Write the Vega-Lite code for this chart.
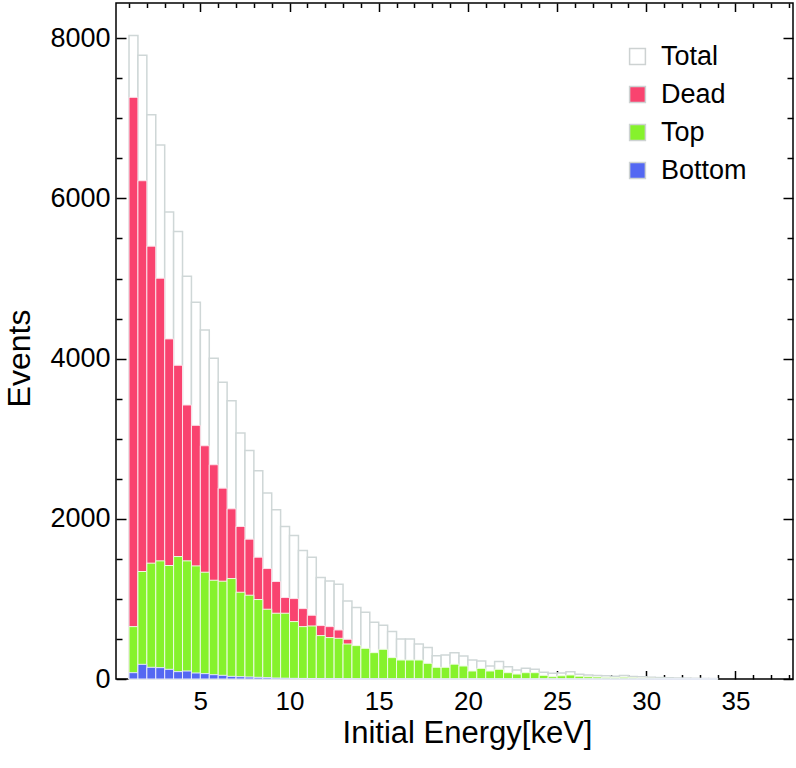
{
  "$schema": "https://vega.github.io/schema/vega-lite/v6.json",
  "width": 677,
  "height": 676,
  "autosize": "none",
  "padding": {"left": 116, "top": 3, "right": 3, "bottom": 89},
  "background": "white",
  "config": {
    "view": {"stroke": "black", "strokeWidth": 1.5},
    "font": "Liberation Sans",
    "axis": {"labelColor": "black", "titleColor": "black", "tickColor": "black", "tickWidth": 1.5, "domain": false, "grid": false, "labelFlush": false, "labelOverlap": false, "titleFontWeight": "normal", "zindex": 1}
  },
  "data": {"values": [
    {"lo":1,"hi":1.5,"total":8034,"dead":7262,"top":654,"bottom":79},
    {"lo":1.5,"hi":2,"total":7787,"dead":6221,"top":1342,"bottom":183},
    {"lo":2,"hi":2.5,"total":7046,"dead":5404,"top":1446,"bottom":146},
    {"lo":2.5,"hi":3,"total":6667,"dead":5004,"top":1475,"bottom":142},
    {"lo":3,"hi":3.5,"total":5830,"dead":4246,"top":1417,"bottom":121},
    {"lo":3.5,"hi":4,"total":5588,"dead":3917,"top":1529,"bottom":92},
    {"lo":4,"hi":4.5,"total":5029,"dead":3421,"top":1475,"bottom":100},
    {"lo":4.5,"hi":5,"total":4704,"dead":3167,"top":1412,"bottom":75},
    {"lo":5,"hi":5.5,"total":4358,"dead":2912,"top":1333,"bottom":67},
    {"lo":5.5,"hi":6,"total":4004,"dead":2675,"top":1233,"bottom":54},
    {"lo":6,"hi":6.5,"total":3704,"dead":2383,"top":1221,"bottom":46},
    {"lo":6.5,"hi":7,"total":3475,"dead":2125,"top":1254,"bottom":33},
    {"lo":7,"hi":7.5,"total":3071,"dead":1904,"top":1083,"bottom":29},
    {"lo":7.5,"hi":8,"total":2854,"dead":1746,"top":1046,"bottom":25},
    {"lo":8,"hi":8.5,"total":2600,"dead":1521,"top":992,"bottom":21},
    {"lo":8.5,"hi":9,"total":2321,"dead":1379,"top":871,"bottom":17},
    {"lo":9,"hi":9.5,"total":2112,"dead":1217,"top":821,"bottom":12},
    {"lo":9.5,"hi":10,"total":1904,"dead":1017,"top":821,"bottom":10},
    {"lo":10,"hi":10.5,"total":1792,"dead":1004,"top":717,"bottom":8},
    {"lo":10.5,"hi":11,"total":1604,"dead":879,"top":654,"bottom":7},
    {"lo":11,"hi":11.5,"total":1521,"dead":796,"top":662,"bottom":6},
    {"lo":11.5,"hi":12,"total":1267,"dead":667,"top":542,"bottom":5},
    {"lo":12,"hi":12.5,"total":1225,"dead":654,"top":517,"bottom":4},
    {"lo":12.5,"hi":13,"total":1183,"dead":612,"top":508,"bottom":4},
    {"lo":13,"hi":13.5,"total":975,"dead":496,"top":437,"bottom":3},
    {"lo":13.5,"hi":14,"total":892,"dead":400,"top":417,"bottom":3},
    {"lo":14,"hi":14.5,"total":833,"dead":360,"top":383,"bottom":2},
    {"lo":14.5,"hi":15,"total":708,"dead":310,"top":329,"bottom":2},
    {"lo":15,"hi":15.5,"total":671,"dead":300,"top":371,"bottom":2},
    {"lo":15.5,"hi":16,"total":592,"dead":250,"top":267,"bottom":1},
    {"lo":16,"hi":16.5,"total":500,"dead":220,"top":237,"bottom":1},
    {"lo":16.5,"hi":17,"total":500,"dead":220,"top":237,"bottom":1},
    {"lo":17,"hi":17.5,"total":437,"dead":200,"top":237,"bottom":1},
    {"lo":17.5,"hi":18,"total":392,"dead":180,"top":196,"bottom":1},
    {"lo":18,"hi":18.5,"total":290,"dead":130,"top":146,"bottom":0},
    {"lo":18.5,"hi":19,"total":300,"dead":135,"top":146,"bottom":0},
    {"lo":19,"hi":19.5,"total":327,"dead":150,"top":185,"bottom":0},
    {"lo":19.5,"hi":20,"total":287,"dead":130,"top":162,"bottom":0},
    {"lo":20,"hi":20.5,"total":237,"dead":90,"top":100,"bottom":0},
    {"lo":20.5,"hi":21,"total":225,"dead":90,"top":133,"bottom":0},
    {"lo":21,"hi":21.5,"total":162,"dead":55,"top":100,"bottom":0},
    {"lo":21.5,"hi":22,"total":217,"dead":90,"top":121,"bottom":0},
    {"lo":22,"hi":22.5,"total":154,"dead":60,"top":79,"bottom":0},
    {"lo":22.5,"hi":23,"total":112,"dead":45,"top":62,"bottom":0},
    {"lo":23,"hi":23.5,"total":133,"dead":50,"top":79,"bottom":0},
    {"lo":23.5,"hi":24,"total":121,"dead":45,"top":79,"bottom":0},
    {"lo":24,"hi":24.5,"total":83,"dead":35,"top":46,"bottom":0},
    {"lo":24.5,"hi":25,"total":71,"dead":25,"top":29,"bottom":0},
    {"lo":25,"hi":25.5,"total":75,"dead":30,"top":40,"bottom":0},
    {"lo":25.5,"hi":26,"total":92,"dead":35,"top":50,"bottom":0},
    {"lo":26,"hi":26.5,"total":60,"dead":22,"top":35,"bottom":0},
    {"lo":26.5,"hi":27,"total":50,"dead":18,"top":28,"bottom":0},
    {"lo":27,"hi":27.5,"total":45,"dead":15,"top":25,"bottom":0},
    {"lo":27.5,"hi":28,"total":40,"dead":14,"top":20,"bottom":0},
    {"lo":28,"hi":28.5,"total":35,"dead":12,"top":18,"bottom":0},
    {"lo":28.5,"hi":29,"total":45,"dead":15,"top":22,"bottom":0},
    {"lo":29,"hi":29.5,"total":30,"dead":10,"top":15,"bottom":0},
    {"lo":29.5,"hi":30,"total":28,"dead":10,"top":12,"bottom":0},
    {"lo":30,"hi":30.5,"total":22,"dead":8,"top":10,"bottom":0},
    {"lo":30.5,"hi":31,"total":18,"dead":6,"top":8,"bottom":0},
    {"lo":31,"hi":31.5,"total":15,"dead":5,"top":7,"bottom":0},
    {"lo":31.5,"hi":32,"total":12,"dead":4,"top":5,"bottom":0},
    {"lo":32,"hi":32.5,"total":10,"dead":3,"top":4,"bottom":0},
    {"lo":32.5,"hi":33,"total":8,"dead":3,"top":3,"bottom":0},
    {"lo":33,"hi":33.5,"total":6,"dead":2,"top":2,"bottom":0},
    {"lo":33.5,"hi":34,"total":5,"dead":2,"top":2,"bottom":0}
  ]},
  "layer": [
    {
      "mark": {"type": "bar", "stroke": "#cfd7d7", "strokeWidth": 1.5},
      "encoding": {
        "x": {"field": "lo", "type": "quantitative", "scale": {"domain": [0.27, 38.23], "nice": false, "zero": false},
          "axis": {"orient": "bottom", "values": [1,2,3,4,5,6,7,8,9,10,11,12,13,14,15,16,17,18,19,20,21,22,23,24,25,26,27,28,29,30,31,32,33,34,35,36,37,38],
            "labelExpr": "datum.value % 5 === 0 ? datum.label : ''",
            "tickSize": {"condition": {"test": "datum.value % 5 === 0", "value": -8.5}, "value": -4.5},
            "labelFontSize": 26, "labelPadding": 18, "title": "Initial Energy[keV]", "titleFontSize": 31, "titlePadding": 0, "titleX": 351}},
        "x2": {"field": "hi"},
        "y": {"field": "total", "type": "quantitative", "scale": {"domain": [0, 8440], "nice": false},
          "axis": {"orient": "left", "values": [0,500,1000,1500,2000,2500,3000,3500,4000,4500,5000,5500,6000,6500,7000,7500,8000],
            "format": "d",
            "labelExpr": "datum.value % 2000 === 0 ? datum.label : ''",
            "tickSize": {"condition": {"test": "datum.value % 2000 === 0", "value": -10}, "value": -6},
            "labelFontSize": 27, "labelPadding": 16, "title": "Events", "titleFontSize": 32, "titlePadding": 13, "titleY": 355}},
        "y2": {"datum": 0},
        "fill": {"datum": "Total", "type": "nominal",
          "scale": {"domain": ["Total", "Dead", "Top", "Bottom"], "range": ["#ffffff", "#f9436f", "#86f22c", "#5468f2"]},
          "legend": {"orient": "none", "legendX": 508, "legendY": 40, "title": null, "padding": 0,
            "symbolType": "square", "symbolSize": 250, "symbolStrokeColor": "#c8cdcd", "symbolStrokeWidth": 1.5,
            "labelFontSize": 27, "labelColor": "black", "labelOffset": 10, "rowPadding": 10,
            "encode": {"symbols": {"update": {"stroke": {"value": "#cdd2d2"}, "strokeWidth": {"value": 1.5}}}}}}
      }
    },
    {
      "mark": {"type": "bar", "stroke": "#fbe3ea", "strokeWidth": 1},
      "encoding": {
        "x": {"field": "lo", "type": "quantitative",
          "axis": {"orient": "top", "values": [1,2,3,4,5,6,7,8,9,10,11,12,13,14,15,16,17,18,19,20,21,22,23,24,25,26,27,28,29,30,31,32,33,34,35,36,37,38],
            "labels": false, "title": null,
            "tickSize": {"condition": {"test": "datum.value % 5 === 0", "value": -8.5}, "value": -4.5}}},
        "x2": {"field": "hi"},
        "y": {"field": "dead", "type": "quantitative",
          "axis": {"orient": "right", "values": [0,500,1000,1500,2000,2500,3000,3500,4000,4500,5000,5500,6000,6500,7000,7500,8000],
            "labels": false, "title": null,
            "tickSize": {"condition": {"test": "datum.value % 2000 === 0", "value": -10}, "value": -6}}},
        "y2": {"datum": 0},
        "fill": {"datum": "Dead", "type": "nominal"}
      }
    },
    {
      "mark": {"type": "bar", "stroke": "#eefbe2", "strokeWidth": 1},
      "encoding": {
        "x": {"field": "lo", "type": "quantitative", "axis": null},
        "x2": {"field": "hi"},
        "y": {"field": "top", "type": "quantitative", "axis": null},
        "y2": {"datum": 0},
        "fill": {"datum": "Top", "type": "nominal"}
      }
    },
    {
      "mark": {"type": "bar", "stroke": "#e6e9fc", "strokeWidth": 1},
      "encoding": {
        "x": {"field": "lo", "type": "quantitative", "axis": null},
        "x2": {"field": "hi"},
        "y": {"field": "bottom", "type": "quantitative", "axis": null},
        "y2": {"datum": 0},
        "fill": {"datum": "Bottom", "type": "nominal"}
      }
    }
  ],
  "resolve": {"axis": {"x": "independent", "y": "independent"}}
}
